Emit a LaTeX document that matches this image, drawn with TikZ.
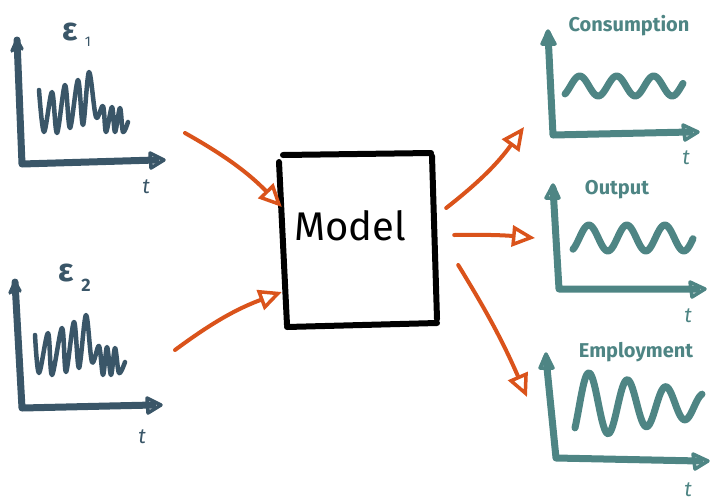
\documentclass[tikz,border=0pt]{standalone}
\usepackage{fontspec}
\setmainfont{Fira Sans}
\usetikzlibrary{arrows.meta}
\definecolor{slate}{HTML}{3A5668}
\definecolor{tealc}{HTML}{4E8584}
\definecolor{orng}{HTML}{DA531B}
\begin{document}
\begin{tikzpicture}[x=1pt,y=-1pt,
  axisL/.style={line width=7pt, line cap=round, line join=round, slate},
  axisR/.style={line width=7pt, line cap=round, line join=round, tealc},
  headL/.style={line width=3.5pt, line cap=round, line join=round, slate},
  headR/.style={line width=3.5pt, line cap=round, line join=round, tealc},
  sigL/.style={line width=4.5pt, line cap=round, line join=round, slate},
  waveR/.style={line width=7pt, line cap=round, line join=round, tealc},
  flow/.style={line width=4pt, line cap=round, orng, -{Triangle[open, length=23pt, width=21pt, line width=3.5pt]}},
  lbl/.style={tealc, font=\fontsize{20}{20}\selectfont\bfseries},
  tlbl/.style={font=\fontsize{21}{21}\selectfont\itshape},
  box/.style={line width=6pt, line cap=round, black}]
\useasboundingbox (0,0) rectangle (711,501);

% ---------- left chart 1 ----------
\coordinate (l1top) at (17,40);
\coordinate (l1o) at (22,164);
\coordinate (l1x) at (156,160);
\draw[axisL] (l1top) -- (l1o) -- (l1x);
\draw[headL] (12,51) -- (l1top) -- (22,49);
\draw[headL] (150,153) -- (164,160) -- (151,168) -- cycle;
\node[slate, font=\fontsize{32}{32}\selectfont\bfseries] (e1) at (70,32) {ε};
\node[slate, font=\fontsize{14}{14}\selectfont] (e1s) at (88,42) {1};
\node[slate, tlbl] (t1) at (146,187) {t};
\draw[sigL] plot[smooth, tension=0.55] coordinates {(39,90) (44,132) (52,92) (57,133) (65,85) (70,128) (78,80) (83,125) (89,72) (96,117) (103,106) (106,132) (112,107) (115,132) (120,108) (123,132) (128,122)};

% ---------- left chart 2 ----------
\coordinate (l2top) at (15,282);
\coordinate (l2o) at (22,408);
\coordinate (l2x) at (153,405);
\draw[axisL] (l2top) -- (l2o) -- (l2x);
\draw[headL] (10,293) -- (l2top) -- (20,291);
\draw[headL] (147,398) -- (161,405) -- (148,413) -- cycle;
\node[slate, font=\fontsize{32}{32}\selectfont\bfseries] (e2) at (66,273) {ε};
\node[slate, font=\fontsize{18}{18}\selectfont\bfseries] (e2s) at (86,285) {2};
\node[slate, tlbl] (t2) at (142,437) {t};
\draw[sigL] plot[smooth, tension=0.55] coordinates {(35,335) (39,373) (48,333) (52,375) (62,328) (66,372) (74,322) (79,368) (86,315) (92,362) (99,346) (103,375) (107,347) (111,375) (115,348) (119,373) (125,362)};

% ---------- model ----------
\node (model) at (358,240) [minimum width=152pt, minimum height=170pt] {};
\draw[box] (283,155) -- (431,153);
\draw[box] (279,162) -- (287,325);
\draw[box] (432,156) -- (437,319);
\draw[box] (287,327) -- (437,323);
\node[font=\fontsize{40}{40}\selectfont] (mtext) at (350,226) {Model};

% ---------- flows ----------
\coordinate (i1) at (185,133);
\coordinate (i2) at (175,350);
\coordinate (o1e) at (524,127);
\coordinate (o2e) at (535,238);
\coordinate (o3e) at (527,397);
\draw[flow] (i1) to[bend left=8] (model.west |- 0,207);
\draw[flow] (i2) to[bend left=8] (model.west |- 0,292);
\draw[flow] (model.east |- 0,208) ++(12,0) to[bend right=8] (o1e);
\draw[flow] (model.east |- 0,235) ++(20,0) to[bend left=3] (o2e);
\draw[flow] (model.east |- 0,265) ++(24,0) to[bend left=4] (o3e);

% ---------- right chart 1 ----------
\coordinate (r1top) at (548,34);
\coordinate (r1o) at (553,135);
\coordinate (r1x) at (690,132);
\draw[axisR] (r1top) -- (r1o) -- (r1x);
\draw[headR] (542,44) -- (548,31) -- (555,44) -- cycle;
\draw[headR] (683,125) -- (698,132) -- (685,140) -- cycle;
\node[lbl] (c1) at (629,26) {Consumption};
\node[tealc, tlbl] (t3) at (686,158) {t};
\draw[waveR] plot[domain=565:683, samples=90] (\x, {86 - 10*sin((\x-565)*9.73 - 53)});

% ---------- right chart 2 ----------
\coordinate (r2top) at (553,188);
\coordinate (r2o) at (559,289);
\coordinate (r2x) at (697,289);
\draw[axisR] (r2top) -- (r2o) -- (r2x);
\draw[headR] (546,198) -- (553,185) -- (559,198) -- cycle;
\draw[headR] (690,282) -- (705,289) -- (692,297) -- cycle;
\node[lbl] (c2) at (617,190) {Output};
\node[tealc, tlbl] (t4) at (688,316) {t};
\draw[waveR] plot[domain=573:693, samples=90] (\x, {238 - 13*sin((\x-573)*9.474 - 60)});

% ---------- right chart 3 ----------
\coordinate (r3top) at (546,358);
\coordinate (r3o) at (556,458);
\coordinate (r3x) at (700,461);
\draw[axisR] (r3top) -- (r3o) -- (r3x);
\draw[headR] (540,368) -- (546,354) -- (553,368) -- cycle;
\draw[headR] (693,454) -- (708,461) -- (695,469) -- cycle;
\node[lbl] (c3) at (636,352) {Employment};
\node[tealc, tlbl] (t5) at (688,490) {t};
\draw[waveR] plot[domain=575:702, samples=100] (\x, {405 - (32-(\x-590)*0.18)*sin((\x-570)*9.351 - 88)});
\end{tikzpicture}
\end{document}
